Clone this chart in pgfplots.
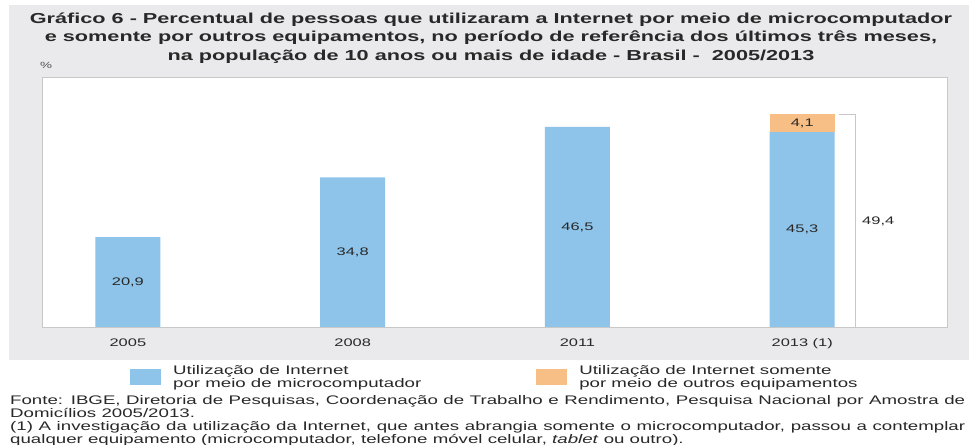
\documentclass[border=0pt]{standalone}
\usepackage{fontspec}
\setmainfont{Liberation Sans}[FakeStretch=1.5]
\usepackage{pgfplots}
\pgfplotsset{compat=1.18}
\definecolor{panel}{RGB}{234,234,236}
\definecolor{barblue}{RGB}{142,196,233}
\definecolor{barorange}{RGB}{247,191,134}
\definecolor{frame}{RGB}{200,200,200}
\definecolor{txt}{RGB}{40,40,40}
\begin{document}
\begin{tikzpicture}
\path[use as bounding box] (0bp,0bp) rectangle (969bp,445bp);
\fill[panel] (9bp,85bp) rectangle (969bp,440bp);
\node[font=\bfseries\fontsize{14.5}{18.5}\selectfont, align=center, text=txt, inner sep=0pt] at (491bp,407bp)
 {Gráfico 6 - Percentual de pessoas que utilizaram a Internet por meio de microcomputador\\
  e somente por outros equipamentos, no período de referência dos últimos três meses,\\
  na população de 10 anos ou mais de idade - Brasil -\ \ 2005/2013};
\node[font=\fontsize{9}{10}\selectfont, text=txt!80, inner sep=0pt] at (46bp,380bp) {\%};
\begin{axis}[
  at={(42bp,118bp)}, anchor=south west, scale only axis,
  width=905bp, height=250bp,
  xmin=-0.382, xmax=3.644, ymin=0, ymax=58.1,
  ybar stacked, bar width=65bp,
  axis background/.style={fill=white},
  axis line style={frame, line width=0.8pt},
  xtick={0,1,2,3}, xticklabels={2005,2008,2011,2013 (1)},
  ytick=\empty, major tick length=0pt,
  xticklabel style={font=\fontsize{11}{12}\selectfont, text=txt, yshift=-8bp},
  legend columns=2,
  legend style={at={(0.0972,-0.2)}, anchor=west, draw=none, fill=none, inner sep=0pt,
    font=\fontsize{12.5}{11}\selectfont, text=txt, cells={align=left},
    /tikz/every even column/.append style={column sep=113bp}},
]
\addplot[fill=barblue, draw=none,
  legend image code/.code={\fill[barblue] (0bp,-8bp) rectangle (31bp,8bp); \path (41bp,0bp);}]
  coordinates {(0,20.9) (1,34.8) (2,46.5) (3,45.3)};
\addlegendentry{Utilização de Internet\\por meio de microcomputador}
\addplot[fill=barorange, draw=none,
  legend image code/.code={\fill[barorange] (0bp,-8bp) rectangle (31bp,8bp); \path (41bp,0bp);}]
  coordinates {(0,0) (1,0) (2,0) (3,4.1)};
\addlegendentry{Utilização de Internet somente\\por meio de outros equipamentos}
\draw[frame, line width=0.8pt] (axis cs:3.164,49.4) -- (axis cs:3.236,49.4) -- (axis cs:3.236,0);
\coordinate (l0) at (axis cs:0,10.45);
\coordinate (l1) at (axis cs:1,17.4);
\coordinate (l2) at (axis cs:2,23.25);
\coordinate (l3) at (axis cs:3,22.65);
\coordinate (l4) at (axis cs:3,47.35);
\coordinate (l5) at (axis cs:3.338,24.65);
\end{axis}
\begin{scope}[every node/.style={font=\fontsize{11}{12}\selectfont, text=txt}]
\node at (l0) {20,9};
\node at (l1) {34,8};
\node at (l2) {46,5};
\node at (l3) {45,3};
\node at (l4) {4,1};
\node at (l5) {49,4};
\end{scope}
\node[anchor=north west, inner sep=0pt, text width=955bp, align=justify,
  font=\fontsize{12.5}{11.4}\selectfont, text=txt] at (10bp,50bp)
 {Fonte: IBGE, Diretoria de Pesquisas, Coordenação de Trabalho e Rendimento, Pesquisa Nacional por Amostra de\linebreak
  Domicílios 2005/2013.\par\vspace{2bp}
  (1) A investigação da utilização da Internet, que antes abrangia somente o microcomputador, passou a contemplar\linebreak
  qualquer equipamento (microcomputador, telefone móvel celular, \textit{tablet} ou outro).};
\end{tikzpicture}
\end{document}
